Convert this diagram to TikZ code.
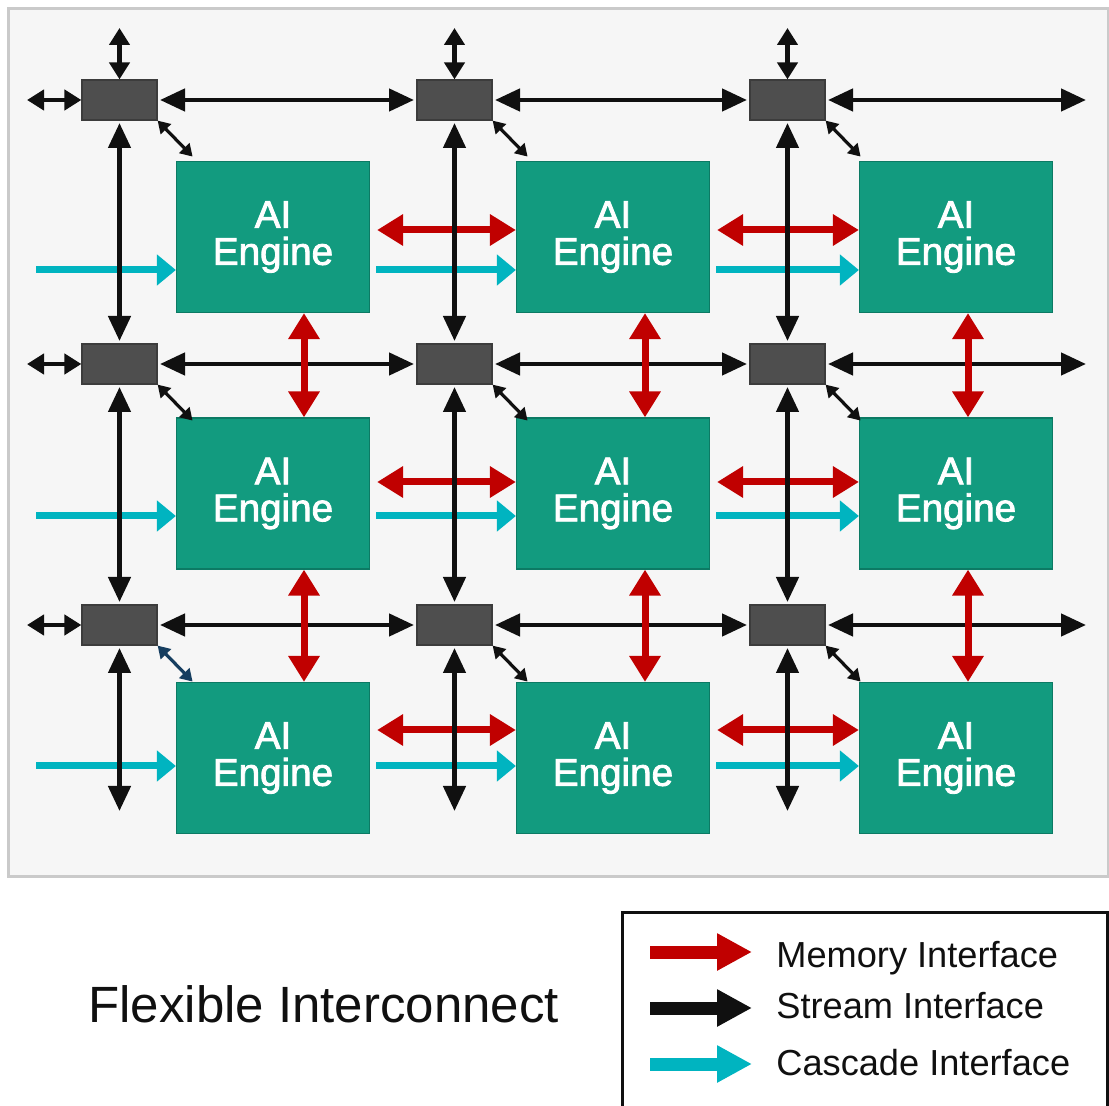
\documentclass[tikz,border=0pt]{standalone}
\usepackage{fontspec}
\setmainfont{Liberation Sans}
\newfontfamily\enginefont{Liberation Sans}[BoldFont={Liberation Sans}, BoldFeatures={FakeBold=2.2}]
\usetikzlibrary{arrows.meta}

\definecolor{enginefill}{RGB}{18,155,127}
\definecolor{engineedge}{RGB}{12,122,100}
\definecolor{switchfill}{RGB}{78,78,78}
\definecolor{switchedge}{RGB}{60,60,60}
\definecolor{memred}{RGB}{192,0,0}
\definecolor{cascade}{RGB}{0,180,192}
\definecolor{panelfill}{RGB}{246,246,246}
\definecolor{paneledge}{RGB}{202,202,202}
\definecolor{navylink}{RGB}{22,62,96}
\definecolor{inkblack}{RGB}{16,16,16}

\begin{document}
\begin{tikzpicture}[x=0.5pt,y=-0.5pt,
  engine/.style={draw=engineedge, line width=0.6pt, fill=enginefill,
    minimum width=96.5pt, minimum height=75.5pt, inner sep=0pt,
    text=white, align=center, font=\enginefont\bfseries\fontsize{19.3}{18.5}\selectfont},
  switchbox/.style={draw=switchedge, line width=0.6pt, fill=switchfill,
    minimum width=37.5pt, minimum height=20pt, inner sep=0pt},
  stream/.style={draw=inkblack, line width=2.3pt,
    shorten <=1.2pt, shorten >=1.2pt,
    arrows={Triangle[length=12.5pt,width=11pt]-Triangle[length=12.5pt,width=11pt]}},
  streamshort/.style={draw=inkblack, line width=2.3pt,
    arrows={Triangle[length=8.5pt,width=10pt]-Triangle[length=8.5pt,width=10pt]}},
  diaglink/.style={draw=inkblack, line width=1.6pt,
    arrows={Triangle[length=6pt,width=7pt]-Triangle[length=6pt,width=7pt]}},
  mem/.style={draw=memred, line width=3.5pt,
    arrows={Triangle[length=13pt,width=15pt]-Triangle[length=13pt,width=15pt]}},
  casc/.style={draw=cascade, line width=3.5pt,
    arrows={-Triangle[length=9.5pt,width=15pt]}},
  legendtext/.style={anchor=base west, inner sep=0pt, text=inkblack,
    font=\fontsize{18.1}{20}\selectfont},
]
\useasboundingbox (0,0) rectangle (1109,1106);
\fill[white] (0,0) rectangle (1109,1106);

% array panel
\draw[paneledge, line width=1.5pt, fill=panelfill] (8,9) rectangle (1108,876);

% AI engine tiles
\foreach \r/\y in {1/237,2/493.5,3/758}
  \foreach \c/\x in {1/273,2/613,3/956}
    \node[engine] (e\r\c) at (\x,\y) {AI\\Engine};

% stream switches
\foreach \r/\y in {1/100,2/364,3/625}
  \foreach \c/\x in {1/119.5,2/454.5,3/787.5}
    \node[switchbox] (s\r\c) at (\x,\y) {};

% free ends of the stream network
\foreach \r/\y in {1/100,2/364,3/625} {
  \coordinate (sl\r) at (27,\y);
  \coordinate (sr\r) at (1086,\y);
}
\foreach \c/\x in {1/119.5,2/454.5,3/787.5} {
  \coordinate (st\c) at (\x,28);
  \coordinate (sb\c) at (\x,811);
}

% rows and columns of the memory and cascade links
\coordinate (m1) at (0,230);
\coordinate (m2) at (0,482);
\coordinate (m3) at (0,730);
\coordinate (k1) at (0,270);
\coordinate (k2) at (0,516);
\coordinate (k3) at (0,766);
\coordinate (v1) at (304,0);
\coordinate (v2) at (645,0);
\coordinate (v3) at (968,0);
\foreach \r in {1,2,3}
  \coordinate (cl\r) at (36,0 |- k\r);

% horizontal stream links
\foreach \r in {1,2,3} {
  \draw[streamshort] (sl\r) -- (s\r1.west);
  \draw[stream] (s\r1.east) -- (s\r2.west);
  \draw[stream] (s\r2.east) -- (s\r3.west);
  \draw[stream, shorten >=0pt] (s\r3.east) -- (sr\r);
}

% memory links between neighbouring engines
\foreach \r in {1,2,3} {
  \draw[mem, shorten <=3.5pt] (e\r1.east |- m\r) -- (e\r2.west |- m\r);
  \draw[mem, shorten <=3.5pt] (e\r2.east |- m\r) -- (e\r3.west |- m\r);
}
\foreach \c in {1,2,3} {
  \draw[mem] (e1\c.south -| v\c) -- (e2\c.north -| v\c);
  \draw[mem] (e2\c.south -| v\c) -- (e3\c.north -| v\c);
}

% cascade links
\foreach \r in {1,2,3} {
  \draw[casc] (cl\r) -- (e\r1.west |- k\r);
  \draw[casc, shorten <=3pt] (e\r1.east |- k\r) -- (e\r2.west |- k\r);
  \draw[casc, shorten <=3pt] (e\r2.east |- k\r) -- (e\r3.west |- k\r);
}

% vertical stream links
\foreach \c in {1,2,3} {
  \draw[streamshort] (st\c) -- (s1\c.north);
  \draw[stream] (s1\c.south) -- (s2\c.north);
  \draw[stream] (s2\c.south) -- (s3\c.north);
  \draw[stream, shorten >=0pt] (s3\c.south) -- (sb\c);
}

% switch to engine links
\foreach \r in {1,2,3}
  \foreach \c in {1,2,3} {
    \coordinate (d\r\c) at ([shift={(35,36)}]s\r\c.south east);
    \ifnum\r\c=31
      \draw[diaglink, draw=navylink] (s\r\c.south east) -- (d\r\c);
    \else
      \draw[diaglink] (s\r\c.south east) -- (d\r\c);
    \fi
  }

% caption
\node[anchor=base west, inner sep=0pt, text=inkblack,
  font=\fontsize{25.5}{30}\selectfont] (caption) at (88,1022) {Flexible Interconnect};

% legend
\draw[inkblack, line width=1.5pt] (622,912) rectangle (1107,1112);
\coordinate (lm0) at (650,952);  \coordinate (lm1) at (752,952);
\coordinate (ls0) at (650,1008); \coordinate (ls1) at (752,1008);
\coordinate (lc0) at (650,1064); \coordinate (lc1) at (752,1064);
\draw[draw=memred, line width=6.5pt, arrows={-Triangle[length=17.5pt,width=17.5pt]}] (lm0) -- (lm1);
\draw[draw=inkblack, line width=6.5pt, arrows={-Triangle[length=17.5pt,width=17.5pt]}] (ls0) -- (ls1);
\draw[draw=cascade, line width=6.5pt, arrows={-Triangle[length=17.5pt,width=17.5pt]}] (lc0) -- (lc1);
\node[legendtext] (lmt) at (776,967) {Memory Interface};
\node[legendtext] (lst) at (776,1018) {Stream Interface};
\node[legendtext] (lct) at (776,1075) {Cascade Interface};
\end{tikzpicture}
\end{document}
